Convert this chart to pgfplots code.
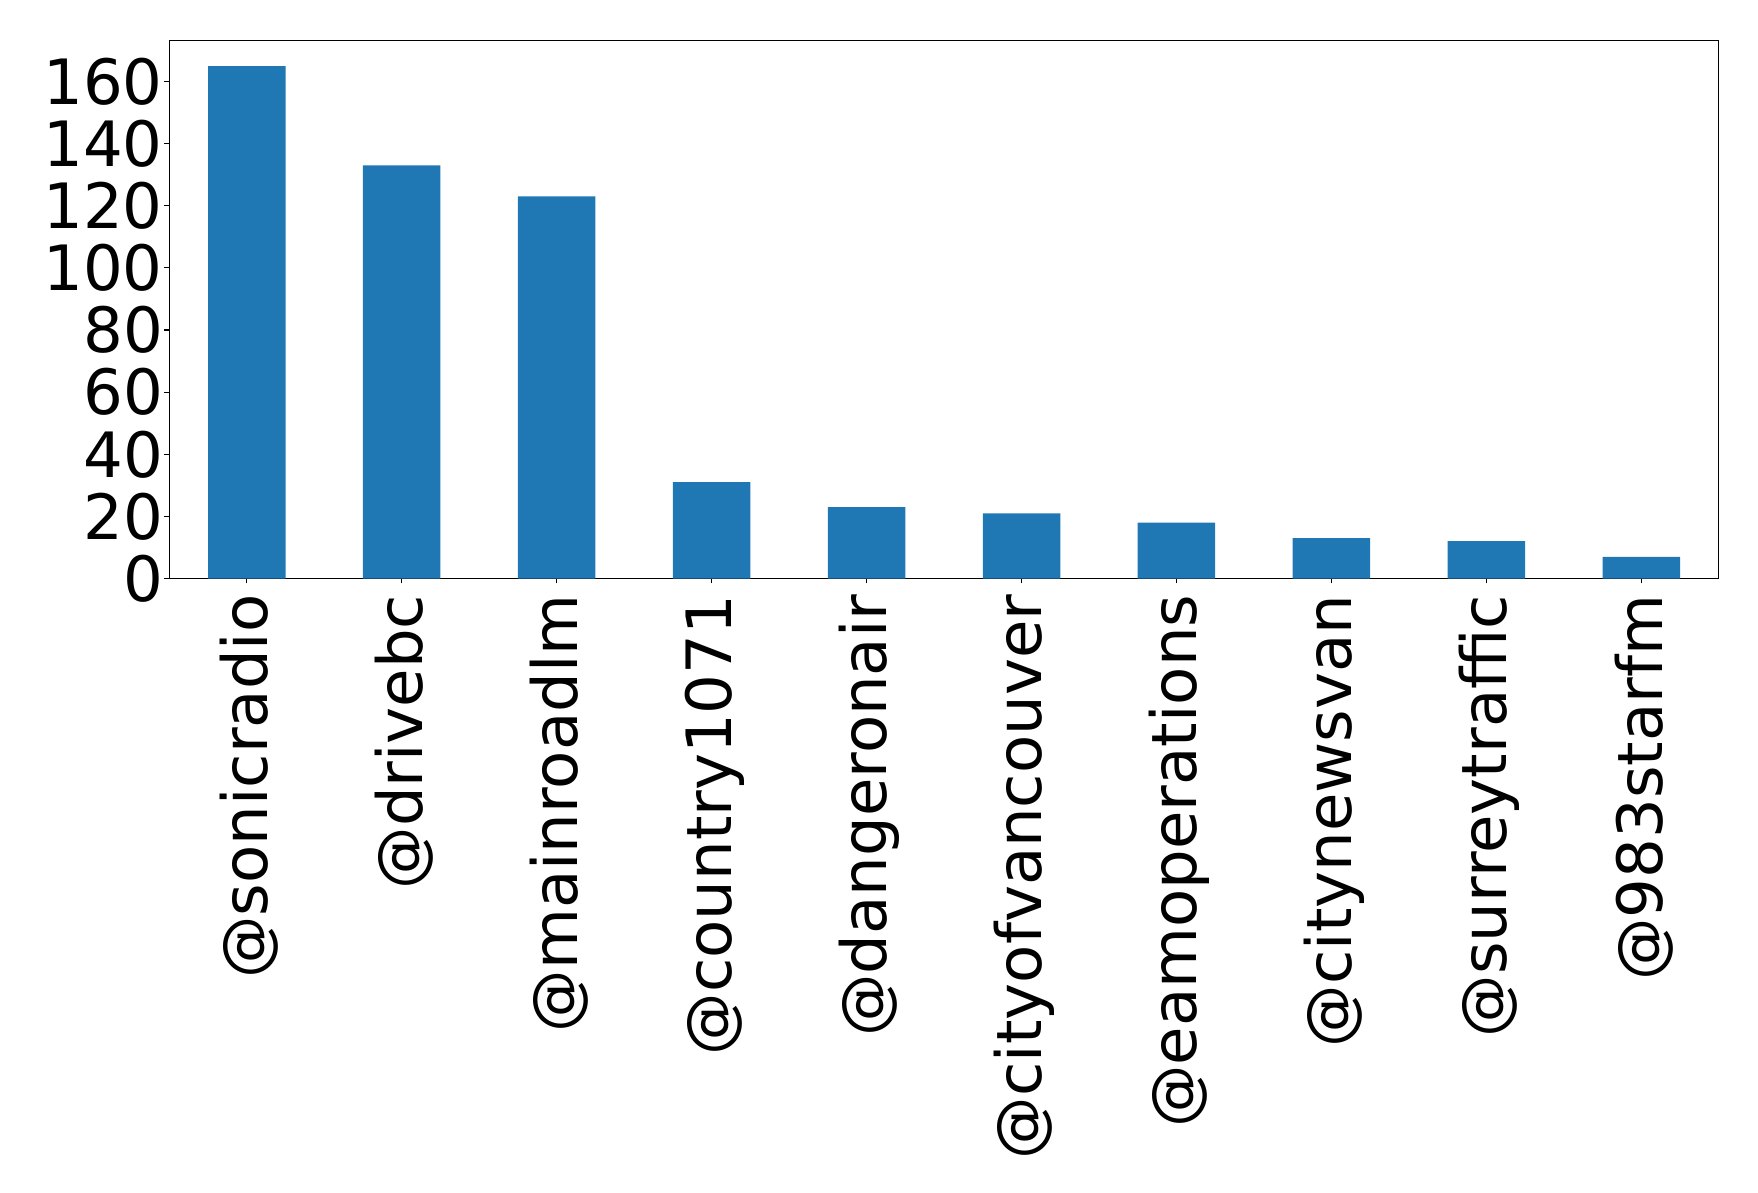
\documentclass[border=0pt]{standalone}
\usepackage{fontspec}
\setmainfont{DejaVu Sans}
\usepackage{pgfplots}
\pgfplotsset{compat=1.18}
\definecolor{tabblue}{HTML}{1F77B4}

\begin{document}
\begin{tikzpicture}
\begin{axis}[
    at={(0,0)}, anchor=south west,
    scale only axis,
    width=1115.6pt, height=387.4pt,
    ybar, bar width=0.5,
    xmin=-0.5, xmax=9.5,
    ymin=0, ymax=173.25,
    xtick={0,...,9},
    xticklabels={@sonicradio,@drivebc,@mainroadlm,@country1071,@dangeronair,@cityofvancouver,@eamoperations,@citynewsvan,@surreytraffic,@983starfm},
    ytick={0,20,...,160},
    xtick pos=bottom, ytick pos=left,
    tick align=outside,
    major tick length=3.5pt,
    every tick/.style={black, line width=0.8pt},
    axis line style={line width=0.8pt},
    tick label style={font=\fontsize{45}{54}\selectfont},
    /pgf/number format/assume math mode=true,
    xticklabel style={rotate=90, anchor=east, inner sep=0pt, xshift=-8pt, yshift=-2pt},
    yticklabel style={anchor=east, inner sep=0pt, xshift=-1pt},
]
\addplot[draw=none, fill=tabblue] coordinates {
    (0,165) (1,133) (2,123) (3,31) (4,23) (5,21) (6,18) (7,13) (8,12) (9,7)
};
\end{axis}
\path (-121.9pt,-442.4pt) rectangle (1143.8pt,416.5pt);
\end{tikzpicture}
\end{document}
